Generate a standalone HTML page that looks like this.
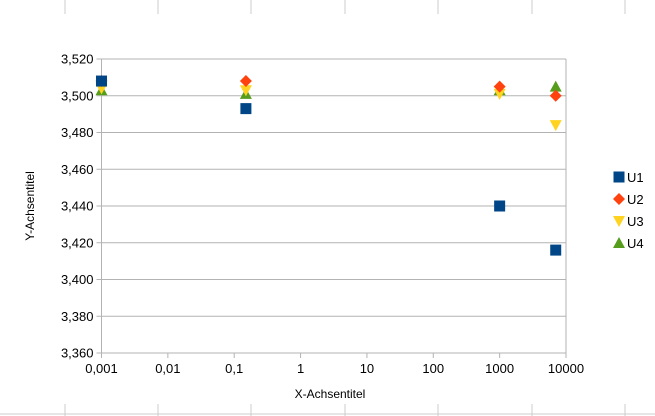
<!DOCTYPE html>
<html><head><meta charset="utf-8"><style>
body{margin:0;background:#fff;}
svg{display:block;font-family:"Liberation Sans",sans-serif;}
</style></head><body>
<svg id="c" width="655" height="416">
<g id="frame"></g>
<g id="grid"></g>
<g id="axes"></g>
<g id="marks"></g>
<text x="330" y="398" font-size="12" text-anchor="middle" fill="#000">X-Achsentitel</text>
<text x="34" y="206" font-size="12" text-anchor="middle" fill="#000" transform="rotate(-90 34 206)">Y-Achsentitel</text>
<g id="legend"></g>
</svg>
<script>
const xValues=[0.001,0.15,1000,7000];
const seriesNames=["U1","U2","U3","U4"];
const u1=[3.508,3.493,3.440,3.416];
const u2=[3.508,3.508,3.505,3.500];
const u3=[3.504,3.503,3.501,3.484];
const u4=[3.503,3.501,3.503,3.505];
const xTicks=[0.001,0.01,0.1,1,10,100,1000,10000];
const xTickLabels=["0,001","0,01","0,1","1","10","100","1000","10000"];
const yTicks=[3.36,3.38,3.40,3.42,3.44,3.46,3.48,3.50,3.52];
const yTickLabels=["3,360","3,380","3,400","3,420","3,440","3,460","3,480","3,500","3,520"];
const NS="http://www.w3.org/2000/svg";
const L=101.5,R=566,T=59,B=353;
const xs=v=>L+(Math.log10(v)+3)/7*(R-L);
const ys=v=>B-(v-3.36)/0.16*(B-T);
function mk(tag,attrs,parent){const e=document.createElementNS(NS,tag);for(const k in attrs)e.setAttribute(k,attrs[k]);parent.appendChild(e);return e;}
const fr=document.getElementById('frame');
[65,158,251,345,438,532,625].forEach(x=>{
 mk('line',{x1:x,y1:0,x2:x,y2:14,stroke:'#ccc'},fr);
 mk('line',{x1:x,y1:404,x2:x,y2:416,stroke:'#ccc'},fr);
});
mk('line',{x1:0,y1:414,x2:655,y2:414,stroke:'#ccc'},fr);
const g=document.getElementById('grid');
yTicks.forEach((t,i)=>{
 const l=mk('line',{x1:L-5,y1:ys(t),x2:R,y2:ys(t),stroke:'#b3b3b3'},g);
 
 
 const tx=mk('text',{x:L-8,y:ys(t)+4.5,'font-size':13,'text-anchor':'end',fill:'#000'},g);
 tx.textContent=yTickLabels[i];
 
 
});
const a=document.getElementById('axes');
mk('line',{x1:L,y1:T,x2:L,y2:B,stroke:'#b3b3b3'},a);
mk('line',{x1:R,y1:T,x2:R,y2:B,stroke:'#b3b3b3'},a);
xTicks.forEach((t,i)=>{
 mk('line',{x1:xs(t),y1:B,x2:xs(t),y2:B+5,stroke:'#b3b3b3'},a);
 const tx=mk('text',{x:xs(t),y:B+20,'font-size':13,'text-anchor':'middle',fill:'#000'},a);
 tx.textContent=xTickLabels[i];
 
 
});
const colors=["#004586","#ff420e","#ffd320","#579d1c"];
function marker(type,x,y,parent){
 if(type===0)return mk('rect',{x:x-5.5,y:y-5.5,width:11,height:11,fill:colors[0]},parent);
 if(type===1)return mk('polygon',{points:`${x},${y-6} ${x+6},${y} ${x},${y+6} ${x-6},${y}`,fill:colors[1]},parent);
 if(type===2)return mk('polygon',{points:`${x-6},${y-5} ${x+6},${y-5} ${x},${y+6}`,fill:colors[2]},parent);
 return mk('polygon',{points:`${x-6},${y+5} ${x+6},${y+5} ${x},${y-6}`,fill:colors[3]},parent);
}
const m=document.getElementById('marks');
const series=[u1,u2,u3,u4];
[3,2,1,0].forEach(s=>{
 series[s].forEach((v,i)=>{
  const e=marker(s,xs(xValues[i]),ys(v),m);
  
  
 });
});
const lg=document.getElementById('legend');
seriesNames.forEach((n,i)=>{
 const y=177+i*22;
 const e=marker(i,619,y,lg);
 
 
 const t=mk('text',{x:627,y:y+5,'font-size':13,fill:'#000'},lg);
 t.textContent=n;
 
 
});
</script>
</body></html>
